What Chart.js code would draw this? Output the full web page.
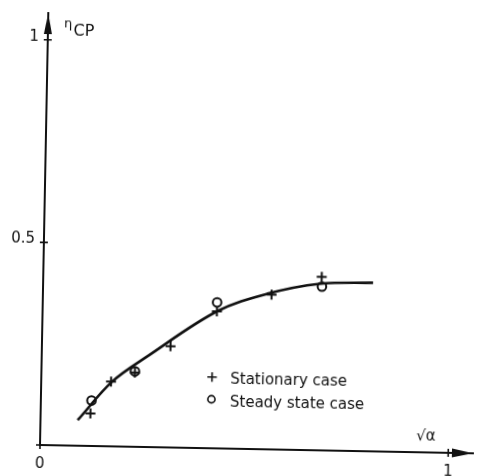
<!DOCTYPE html>
<html>
<head>
<meta charset="utf-8">
<script src="https://cdn.jsdelivr.net/npm/chart.js@4/dist/chart.umd.min.js"></script>
<style>
  html, body { margin: 0; padding: 0; background: #fff; }
  #wrap { width: 480px; height: 476px; overflow: hidden; background: #fff; }
  #c { display: block; transform: rotate(1.1deg); transform-origin: 40px 445px; }
</style>
</head>
<body>
<div id="wrap"><canvas id="c" width="480" height="476"></canvas></div>
<script>
// ---- data ----
const stationaryX = [0.122, 0.171, 0.229, 0.315, 0.427, 0.560, 0.682];
const stationaryY = [0.080, 0.160, 0.183, 0.250, 0.338, 0.382, 0.428];
const steadyX = [0.124, 0.229, 0.427, 0.683];
const steadyY = [0.112, 0.186, 0.360, 0.404];
const curveX = [0.091, 0.174, 0.262, 0.427, 0.550, 0.677, 0.808];
const curveY = [0.063, 0.160, 0.226, 0.338, 0.384, 0.411, 0.416];
const xTicks = [0, 1];
const xTickLabels = ['0', '1'];
const yTicks = [0.5, 1];
const yTickLabels = ['0.5', '1'];
const seriesNames = ['Stationary case', 'Steady state case'];
const yTitleMain = '\u03B7';
const yTitleSub = 'CP';
const xTitle = '\u221A\u03B1';

const INK = '#111111';
const FONT = 'DejaVu Sans';

const toPts = (xs, ys) => xs.map((x, i) => ({ x: x, y: ys[i] }));

const decor = {
  id: 'decor',
  afterDraw(chart) {
    const ctx = chart.ctx;
    const xs = chart.scales.x, ys = chart.scales.y;
    const ox = xs.getPixelForValue(0), oy = ys.getPixelForValue(0);
    const xEnd = xs.getPixelForValue(xs.max), yEnd = ys.getPixelForValue(ys.max);
    ctx.save();
    ctx.strokeStyle = INK; ctx.fillStyle = INK; ctx.lineWidth = 1.6;
    // arrow heads
    ctx.beginPath();
    ctx.moveTo(ox, yEnd); ctx.lineTo(ox - 4, yEnd + 21); ctx.lineTo(ox + 4, yEnd + 21); ctx.closePath(); ctx.fill();
    ctx.beginPath();
    ctx.moveTo(xEnd, oy); ctx.lineTo(xEnd - 21, oy - 4.5); ctx.lineTo(xEnd - 21, oy + 4.5); ctx.closePath(); ctx.fill();
    // tick marks crossing the axes
    ctx.beginPath();
    yTicks.forEach(v => { const p = ys.getPixelForValue(v); ctx.moveTo(ox - 4, p); ctx.lineTo(ox + 4, p); });
    xTicks.forEach(v => { const p = xs.getPixelForValue(v); ctx.moveTo(p, oy - 4); ctx.lineTo(p, oy + 4); });
    ctx.moveTo(ox - 4, oy); ctx.lineTo(ox, oy);
    ctx.stroke();
    // axis titles
    ctx.textBaseline = 'alphabetic'; ctx.textAlign = 'left';
    ctx.font = '13px "' + FONT + '"';
    ctx.fillText(yTitleMain, 56, 26.5);
    ctx.font = '16px "' + FONT + '"';
    ctx.fillText(yTitleSub, 65.5, 34.5);
    ctx.font = '15px "' + FONT + '"';
    ctx.fillText(xTitle, 416, 432.5);
    // legend
    ctx.font = '15px "' + FONT + '"';
    ctx.fillText(seriesNames[0], 229, 379.5);
    ctx.fillText(seriesNames[1], 229, 402.5);
    ctx.lineWidth = 1.6;
    ctx.beginPath();
    ctx.moveTo(206, 373.7); ctx.lineTo(215.5, 373.7);
    ctx.moveTo(210.7, 369); ctx.lineTo(210.7, 378.5);
    ctx.stroke();
    ctx.beginPath();
    ctx.arc(210.5, 396, 3.6, 0, Math.PI * 2);
    ctx.stroke();
    ctx.restore();
  }
};

new Chart(document.getElementById('c'), {
  type: 'scatter',
  data: {
    datasets: [
      {
        label: 'curve',
        type: 'line',
        data: toPts(curveX, curveY),
        borderColor: INK,
        borderWidth: 2.6,
        pointRadius: 0,
        fill: false,
        tension: 0.35,
        order: 3
      },
      {
        label: seriesNames[0],
        data: toPts(stationaryX, stationaryY),
        pointStyle: 'cross',
        pointRadius: 5,
        borderColor: INK,
        borderWidth: 2,
        order: 1
      },
      {
        label: seriesNames[1],
        data: toPts(steadyX, steadyY),
        pointStyle: 'circle',
        pointRadius: 4.3,
        borderColor: INK,
        backgroundColor: 'rgba(0,0,0,0)',
        borderWidth: 2,
        order: 2
      }
    ]
  },
  options: {
    responsive: false,
    animation: false,
    devicePixelRatio: 1,
    layout: { padding: { top: 8, right: 2, left: 0, bottom: 0 } },
    plugins: { legend: { display: false }, tooltip: { enabled: false } },
    scales: {
      x: {
        type: 'linear',
        min: 0,
        max: 1.0605,
        afterBuildTicks: s => { s.ticks = xTicks.map(v => ({ value: v })); },
        afterFit: s => { s.height = 31; },
        grid: { display: false, drawTicks: true, tickLength: 4 },
        border: { display: true, color: INK, width: 2 },
        ticks: {
          color: INK,
          font: { family: FONT, size: 15 },
          padding: 6,
          maxRotation: 0,
          callback: (v, i) => xTickLabels[i]
        }
      },
      y: {
        type: 'linear',
        min: 0,
        max: 1.0659,
        afterBuildTicks: s => { s.ticks = yTicks.map(v => ({ value: v })); },
        afterFit: s => { s.width = 40; },
        grid: { display: false, drawTicks: true, tickLength: 5 },
        border: { display: true, color: INK, width: 2 },
        ticks: {
          color: INK,
          font: { family: FONT, size: 15 },
          padding: 4,
          labelOffset: -3,
          callback: (v, i) => yTickLabels[i]
        }
      }
    }
  },
  plugins: [decor]
});
</script>
</body>
</html>
